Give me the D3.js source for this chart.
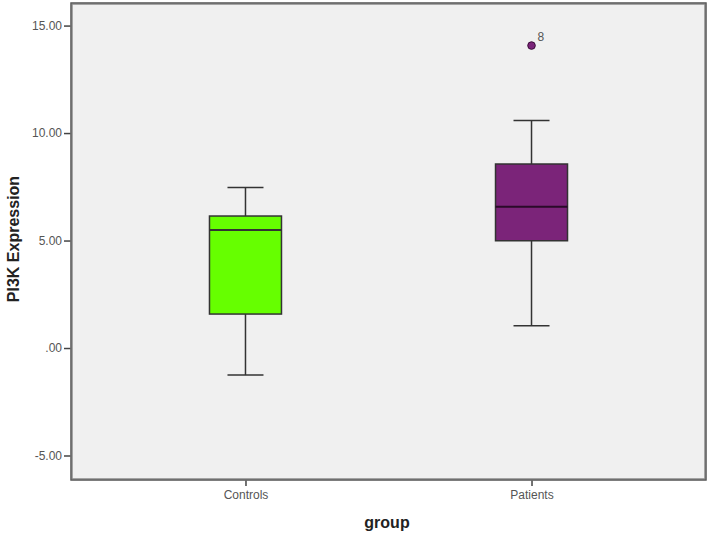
<!DOCTYPE html>
<html>
<head>
<meta charset="utf-8">
<script src="https://cdn.jsdelivr.net/npm/d3@7"></script>
<style>
  body { margin: 0; background: #fff; }
  text { font-family: "Liberation Sans", Arial, sans-serif; }
</style>
</head>
<body>
<div id="chart"></div>
<script>
// Chart values
var groups = ["Controls", "Patients"];
var whiskerLow = [-1.26, 1.04];
var q1 = [1.58, 4.99];
var medians = [5.49, 6.57];
var q3 = [6.14, 8.56];
var whiskerHigh = [7.47, 10.58];
var outlierGroup = ["Patients"];
var outlierValue = [14.07];
var outlierLabel = ["8"];
var yTicks = [-5, 0, 5, 10, 15];
var fills = ["#66ff00", "#7b2479"];

var svgWidth = 709;
var svgHeight = 534;

var margin = { top: 3, right: 3, bottom: 54, left: 71 };
var width = svgWidth - margin.left - margin.right;
var height = svgHeight - margin.top - margin.bottom;

var svg = d3.select("#chart")
    .append("svg")
        .attr("width", svgWidth)
        .attr("height", svgHeight)
    .append("g")
        .attr("transform", `translate(${margin.left}, ${margin.top})`);

// plot background
svg.append("rect")
    .attr("width", width)
    .attr("height", height)
    .attr("fill", "#f0f0f0");

var x = d3.scalePoint()
    .domain(groups)
    .range([0, width])
    .padding(0.61);

var y = d3.scaleLinear()
    .domain([-6.14, 16.05])
    .range([height, 0]);

// SPSS style labels: ".00" for zero, plain hyphen for negatives
function fmtTick(d) {
    if (d === 0) return ".00";
    return d.toFixed(2);
}

// y axis
var yAxis = svg.append("g")
    .call(d3.axisLeft(y)
        .tickValues(yTicks)
        .tickSize(7)
        .tickFormat(fmtTick));
yAxis.select(".domain").remove();
yAxis.selectAll("line").attr("stroke", "#444").attr("stroke-width", 1.5);
yAxis.selectAll("text")
    .attr("fill", "#555")
    .attr("font-size", "12px")
    .attr("font-family", "Liberation Sans, Arial, sans-serif")
    .attr("x", -9);

// x axis
var xAxis = svg.append("g")
    .attr("transform", "translate(0," + height + ")")
    .call(d3.axisBottom(x).tickSize(6));
xAxis.select(".domain").remove();
xAxis.selectAll("line").attr("stroke", "#444").attr("stroke-width", 1.5);
xAxis.selectAll("text")
    .attr("fill", "#555")
    .attr("font-size", "12px")
    .attr("font-family", "Liberation Sans, Arial, sans-serif")
    .attr("y", 10);

// frame
svg.append("rect")
    .attr("x", 0.5)
    .attr("y", 0.5)
    .attr("width", width - 1)
    .attr("height", height - 1)
    .attr("fill", "none")
    .attr("stroke", "#8a8a8a")
    .attr("stroke-width", 2.5);
svg.append("rect")
    .attr("width", width)
    .attr("height", height)
    .attr("fill", "none")
    .attr("stroke", "#555")
    .attr("stroke-width", 1);

// axis titles
svg.append("text")
    .attr("transform", "rotate(-90)")
    .attr("x", -(239 - margin.top))
    .attr("y", 19 - margin.left)
    .attr("text-anchor", "middle")
    .attr("font-size", "16px")
    .attr("font-weight", "bold")
    .attr("fill", "#222")
    .text("PI3K Expression");

svg.append("text")
    .attr("x", 387 - margin.left)
    .attr("y", 528 - margin.top)
    .attr("text-anchor", "middle")
    .attr("font-size", "16px")
    .attr("font-weight", "bold")
    .attr("fill", "#222")
    .text("group");

// boxes
var boxWidth = 72;
var capWidth = 36;

var boxGroup = svg.selectAll("g.box")
    .data(groups)
    .enter()
    .append("g")
        .attr("class", "box");

boxGroup.append("line")
    .attr("x1", d => x(d))
    .attr("x2", d => x(d))
    .attr("y1", (d, i) => y(whiskerLow[i]))
    .attr("y2", (d, i) => y(whiskerHigh[i]))
    .attr("stroke", "#333")
    .attr("stroke-width", 1.5);

boxGroup.append("line")
    .attr("x1", d => x(d) - capWidth / 2)
    .attr("x2", d => x(d) + capWidth / 2)
    .attr("y1", (d, i) => y(whiskerHigh[i]))
    .attr("y2", (d, i) => y(whiskerHigh[i]))
    .attr("stroke", "#333")
    .attr("stroke-width", 1.5);

boxGroup.append("line")
    .attr("x1", d => x(d) - capWidth / 2)
    .attr("x2", d => x(d) + capWidth / 2)
    .attr("y1", (d, i) => y(whiskerLow[i]))
    .attr("y2", (d, i) => y(whiskerLow[i]))
    .attr("stroke", "#333")
    .attr("stroke-width", 1.5);

boxGroup.append("rect")
    .attr("x", d => x(d) - boxWidth / 2)
    .attr("y", (d, i) => y(q3[i]))
    .attr("width", boxWidth)
    .attr("height", (d, i) => y(q1[i]) - y(q3[i]))
    .attr("fill", (d, i) => fills[i])
    .attr("stroke", "#333")
    .attr("stroke-width", 1.5);

boxGroup.append("line")
    .attr("x1", d => x(d) - boxWidth / 2)
    .attr("x2", d => x(d) + boxWidth / 2)
    .attr("y1", (d, i) => y(medians[i]))
    .attr("y2", (d, i) => y(medians[i]))
    .attr("stroke", (d, i) => i === 1 ? "#2a0a29" : "#333")
    .attr("stroke-width", 2);

// outliers
var outGroup = svg.selectAll("g.outlier")
    .data(outlierValue)
    .enter()
    .append("g")
        .attr("class", "outlier");

outGroup.append("circle")
    .attr("cx", (d, i) => x(outlierGroup[i]))
    .attr("cy", d => y(d))
    .attr("r", 3.8)
    .attr("fill", fills[1])
    .attr("stroke", "#3a0a38")
    .attr("stroke-width", 1);

outGroup.append("text")
    .attr("x", (d, i) => x(outlierGroup[i]) + 6)
    .attr("y", d => y(d) - 5)
    .attr("font-size", "12px")
    .attr("fill", "#555")
    .text((d, i) => outlierLabel[i]);
</script>
</body>
</html>
